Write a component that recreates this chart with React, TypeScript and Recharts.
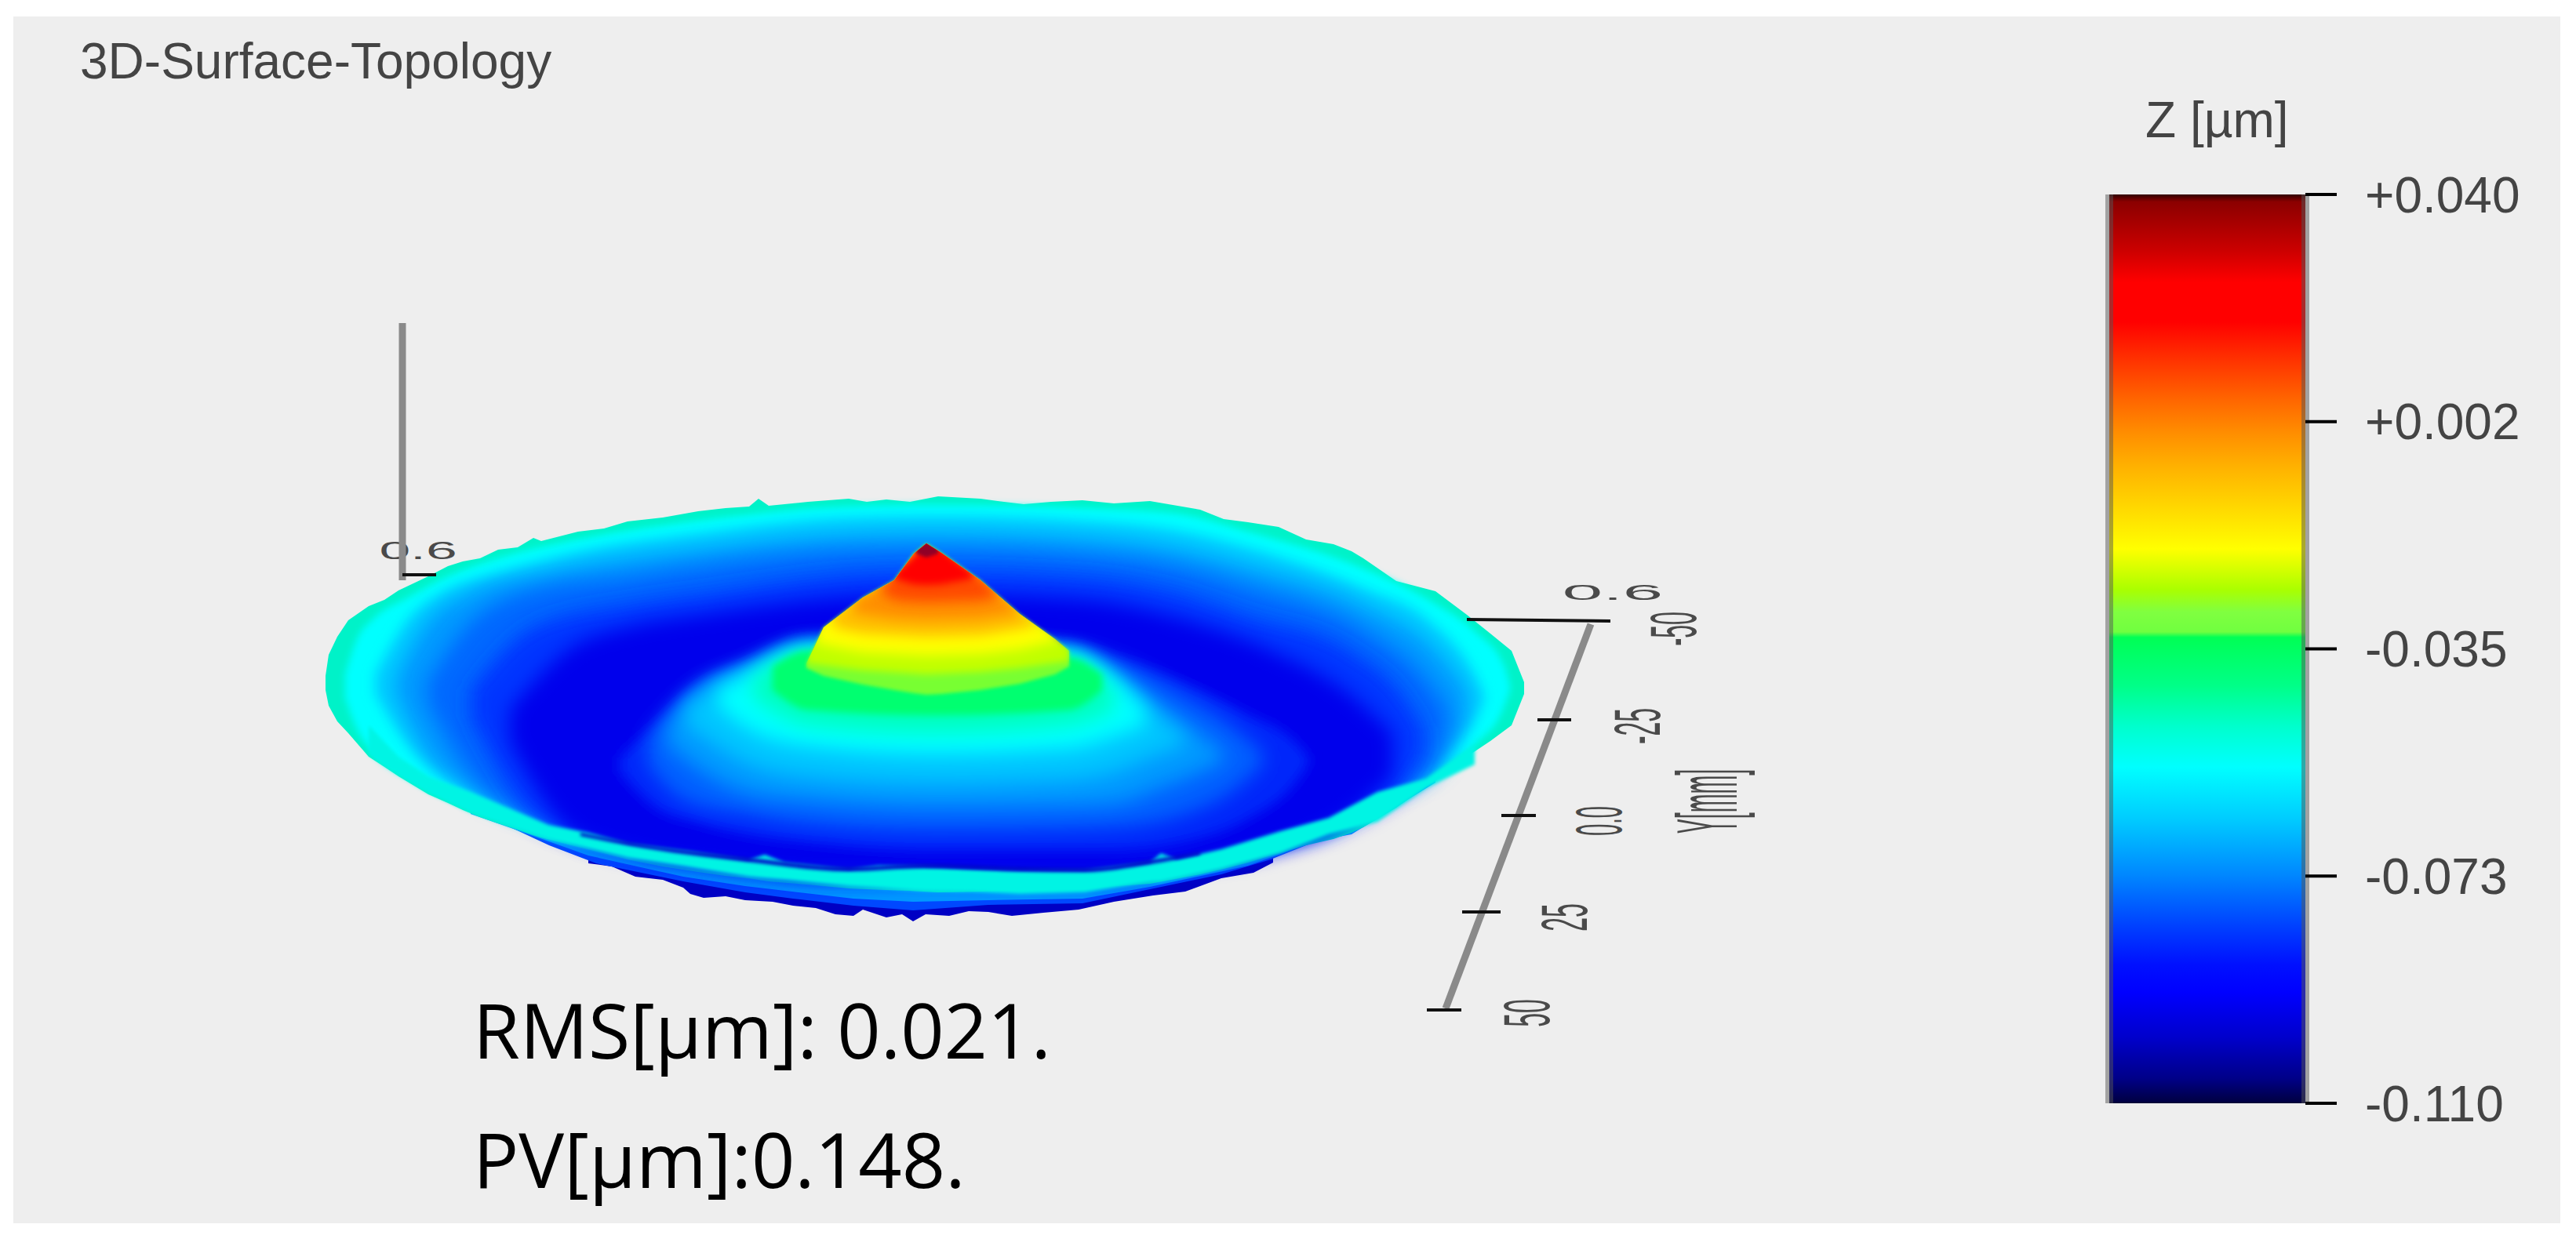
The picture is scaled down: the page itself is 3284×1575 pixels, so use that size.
import React from "react";
import { ComposedChart, Area, Line, XAxis, YAxis, ReferenceLine } from "recharts";

// ---- surface contours as [x, upper edge, lower edge] ----
const underDark = [[750,1095,1101],[780,1095,1105],[810,1095,1118],[845,1095,1122],[871,1100,1132],[880,1100,1140],[897,1100,1145],[925,1100,1143],[950,1100,1148],[985,1100,1150],[1011,1100,1155],[1040,1100,1158],[1065,1100,1166],[1088,1100,1168],[1100,1100,1160],[1130,1100,1170],[1150,1100,1166],[1164,1100,1175],[1180,1100,1166],[1210,1100,1168],[1235,1100,1162],[1260,1100,1163],[1290,1100,1168],[1330,1100,1164],[1375,1100,1160],[1420,1100,1150],[1470,1100,1142],[1511,1100,1137],[1557,1090,1120],[1598,1080,1113],[1623,1070,1100]];
const underBlue = [[640,1040,1050],[700,1060,1078],[760,1085,1101],[871,1100,1124],[950,1110,1138],[1011,1115,1146],[1088,1120,1155],[1164,1120,1161],[1260,1120,1154],[1380,1120,1152],[1466,1110,1134],[1557,1090,1115],[1620,1070,1096],[1680,1050,1072],[1723,1040,1062]];
const underMid = [[600,1020,1038],[680,1050,1066],[750,1075,1091],[871,1095,1118],[950,1110,1130],[1088,1120,1146],[1164,1125,1150],[1260,1125,1148],[1380,1120,1146],[1466,1110,1131],[1591,1080,1104],[1680,1050,1072],[1723,1040,1064],[1773,1010,1033],[1830,975,998]];
const rimLayer = [[415,862,880],[419,835,900],[430,812,920],[444,791,935],[470,773,965],[490,765,978],[508,753,990],[546,735,1013],[571,722,1024],[590,716,1033],[612,712,1042],[635,701,1050],[660,698,1058],[680,686,1065],[690,690,1068],[737,678,1080],[770,674,1088],[800,665,1096],[845,660,1105],[890,652,1112],[925,648,1117],[955,646,1120],[967,636,1122],[980,645,1124],[1030,640,1128],[1082,636,1133],[1105,640,1134],[1130,637,1135],[1160,640,1136],[1196,633,1138],[1250,636,1137],[1280,640,1136],[1305,643,1135],[1340,640,1135],[1380,638,1134],[1420,642,1130],[1466,639,1127],[1530,650,1115],[1560,662,1108],[1591,666,1100],[1630,672,1088],[1665,688,1078],[1700,694,1070],[1723,703,1062],[1738,712,1055],[1780,741,1030],[1830,754,995],[1870,784,965],[1900,808,945],[1927,830,925],[1943,870,885]];
const bowl1 = [[440,860,890],[455,815,930],[475,790,958],[520,762,990],[571,735,1015],[635,712,1042],[737,688,1078],[890,664,1108],[1082,646,1126],[1196,644,1130],[1380,648,1128],[1500,655,1105],[1591,678,1085],[1738,725,1020],[1830,770,985],[1880,805,950],[1918,850,900],[1925,875,880]];
const bowl2 = [[478,860,885],[520,790,950],[565,755,990],[635,732,1025],[737,704,1066],[890,680,1098],[1082,660,1115],[1196,658,1115],[1380,664,1116],[1500,676,1090],[1591,698,1070],[1738,750,1010],[1820,790,975],[1880,860,915],[1892,885,895]];
const bowl3 = [[505,865,885],[540,800,955],[600,755,1008],[700,728,1050],[890,700,1095],[1082,682,1115],[1196,680,1115],[1380,686,1116],[1500,700,1095],[1591,722,1075],[1738,772,1020],[1830,830,985],[1870,880,920]];
const bowl4 = [[545,870,895],[590,805,975],[680,752,1045],[800,735,1080],[890,722,1095],[1082,703,1115],[1196,701,1115],[1380,708,1118],[1500,723,1100],[1591,748,1085],[1738,803,1030],[1820,870,985],[1845,905,930]];
const bowl5 = [[600,880,915],[680,800,1040],[800,770,1085],[890,757,1100],[1082,732,1120],[1196,728,1115],[1380,735,1120],[1500,755,1105],[1591,785,1085],[1720,830,1050],[1790,890,1000],[1815,930,960]];
const bowl6 = [[650,905,945],[730,825,1062],[800,800,1088],[890,785,1105],[1082,762,1120],[1196,758,1118],[1380,765,1122],[1500,788,1105],[1620,830,1085],[1720,885,1040],[1775,935,990]];
const mound1 = [[790,965,985],[835,925,1030],[890,875,1050],[954,845,1065],[1030,815,1075],[1190,815,1085],[1363,822,1085],[1420,838,1085],[1507,870,1075],[1590,910,1045],[1650,945,1000],[1668,965,975]];
const mound2 = [[825,940,975],[870,890,1020],[954,847,1040],[1030,818,1052],[1190,818,1060],[1363,826,1058],[1430,845,1055],[1507,885,1040],[1570,925,1010],[1610,960,975]];
const mound3 = [[850,925,950],[895,875,985],[954,850,1012],[1030,822,1022],[1190,820,1030],[1363,830,1028],[1420,860,1025],[1480,900,1005],[1530,935,985],[1560,960,970]];
const mound4 = [[875,900,925],[954,855,975],[1030,825,992],[1190,822,1000],[1363,832,995],[1420,865,985],[1470,905,965],[1510,940,950]];
const mound5 = [[915,880,900],[954,860,930],[1030,828,952],[1190,825,962],[1363,835,955],[1420,865,940],[1460,905,925]];
const mound6 = [[960,865,890],[1030,830,925],[1190,828,935],[1363,838,925],[1420,880,905]];
const mound7 = [[985,850,880],[1030,830,905],[1190,830,912],[1363,838,905],[1405,860,880]];
const lipEdge = [[740,1062,1066],[801,1074,1078],[954,1094,1099],[1082,1106,1111],[1177,1102,1107],[1300,1106,1111],[1383,1107,1112],[1466,1097,1102],[1530,1086,1090]];
const lipBand = [[470,925,962],[508,965,988],[546,990,1011],[600,1010,1036],[699,1052,1070],[750,1062,1082],[801,1076,1094],[880,1086,1106],[954,1097,1118],[975,1090,1120],[1000,1100,1122],[1082,1109,1130],[1120,1104,1132],[1177,1105,1136],[1240,1108,1137],[1300,1110,1140],[1383,1110,1138],[1466,1100,1125],[1480,1088,1124],[1500,1096,1120],[1557,1083,1108],[1632,1060,1088],[1694,1043,1064],[1756,1010,1048],[1818,993,1005],[1880,950,975]];
const peakOutline = [[1028,846,852],[1050,800,862],[1100,762,873],[1140,740,880],[1165,706,884],[1181,693,886],[1200,705,885],[1250,740,880],[1300,783,872],[1345,815,860],[1363,830,850]];
const peakHalo = [[1036,826,834],[1048,795,812],[1098,758,778],[1138,736,752],[1163,702,722],[1181,688,712],[1202,701,722],[1252,736,752],[1303,779,795],[1340,806,818],[1354,818,826]];
const peak2 = [[1028,820,846],[1100,760,855],[1181,690,860],[1250,738,857],[1300,780,852],[1363,825,843]];
const peak3 = [[1040,790,820],[1100,760,832],[1181,690,836],[1250,738,834],[1300,780,828],[1350,810,816]];
const peak4 = [[1062,780,800],[1100,760,808],[1181,690,812],[1250,738,810],[1300,780,802],[1325,795,796]];
const peak5 = [[1088,766,782],[1140,738,790],[1181,690,792],[1250,738,790],[1303,780,782]];
const peak6 = [[1125,745,758],[1145,730,766],[1181,690,768],[1250,735,766],[1275,760,760]];
const peak7 = [[1140,732,738],[1165,710,745],[1181,690,746],[1200,700,745],[1240,732,738]];
const peak8 = [[1168,700,706],[1181,690,711],[1196,700,706]];

// ---- 3D axes ----
const zAxisLine = [[513,412],[513,740]];
const zAxisTick = [[513,733],[556,733]];
const yAxisLine = [[2028,796],[1843,1286]];
const yEndTick = [[1870,790],[2053,792]];
const yTick1 = [[1960,918],[2003,918]];
const yTick2 = [[1914,1040],[1958,1040]];
const yTick3 = [[1864,1163],[1913,1163]];
const yTick4 = [[1819,1288],[1863,1288]];

// ---- colour scale ----
const zDomain = [-0.11, 0.04];
const zTicks = [0.04, 0.0025, -0.035, -0.0725, -0.11];
const zLabels = ["+0.040", "+0.002", "-0.035", "-0.073", "-0.110"];
const scaleValues = [0.04,0.0388,0.0307,0.0255,0.019,0.0126,0.0061,0.0009,-0.0047,-0.0185,-0.0252,-0.0289,-0.0322,-0.0331,-0.0411,-0.0477,-0.0545,-0.063,-0.0722,-0.0808,-0.0871,-0.0917,-0.0991,-0.1059,-0.1097,-0.11];
const scaleColors = ["#300000","#8b0000","#cc0000","#ff0000","#ff0000","#ff3300","#ff6600","#ff8c00","#ffb000","#ffff00","#aaff00","#80ff40","#70ff40","#00ff55","#00ff88","#00ffcc","#00ffff","#00ccff","#0088ff","#0040ff","#0010ff","#0000ff","#0000cc","#000088","#000044","#000030"];
const scaleExtent = [{ x: 0, range: zDomain }, { x: 1, range: zDomain }];

const W = 3284;
const H = 1575;
const sans = "'Liberation Sans', Arial, sans-serif";
const toBand = (rows: number[][]) => rows.map(([x, a, b]) => ({ x, range: [a, b] }));
const toPath = (rows: number[][]) => rows.map(([x, y]) => ({ x, y }));
const conePolygon = [
  ...peakOutline.map(([x, top]) => `${x},${top}`),
  ...[...peakOutline].reverse().map(([x, , bottom]) => `${x},${bottom}`),
].join(" ");

const layers: [number[][], string, string, string, boolean][] = [
  [underDark, "#0000c4", "", "linear", false],
  [underBlue, "#0048ff", "", "linear", false],
  [underMid, "#0098ff", "", "linear", false],
  [rimLayer, "#00f2c8", "", "linear", false],
  [bowl1, "#00ffff", "soft5", "monotone", false],
  [bowl2, "#00ccff", "soft8", "monotone", false],
  [bowl3, "#0098ff", "soft12", "monotone", false],
  [bowl4, "#0068ff", "soft12", "monotone", false],
  [bowl5, "#0034ff", "soft12", "monotone", false],
  [bowl6, "#0000ec", "soft12", "monotone", false],
  [lipBand, "#00f4e4", "soft2", "linear", false],
  [lipEdge, "#0000c8", "soft2", "monotone", false],
  [mound1, "#0028fa", "soft8", "monotone", false],
  [mound2, "#0060ff", "soft12", "monotone", false],
  [mound3, "#0098ff", "soft12", "monotone", false],
  [mound4, "#00c4ff", "soft12", "monotone", false],
  [mound5, "#00ffff", "soft12", "monotone", false],
  [mound6, "#00ffc0", "soft12", "monotone", false],
  [mound7, "#00ff70", "soft5", "monotone", false],
  [peakOutline, "#78ff30", "soft2", "linear", false],
  [peakHalo, "#6a6a90", "soft2", "linear", true],
  [peak2, "#c0ff00", "soft5", "linear", true],
  [peak3, "#ffff00", "soft8", "linear", true],
  [peak4, "#ffc000", "soft8", "linear", true],
  [peak5, "#ff9000", "soft8", "linear", true],
  [peak6, "#ff4800", "soft8", "linear", true],
  [peak7, "#ff0000", "soft5", "linear", true],
  [peak8, "#900028", "soft2", "linear", true],
];

function Squeezed({ x, y, rot, sx, sy, size, children }: any) {
  return (
    <text
      transform={`translate(${x},${y}) rotate(${rot}) scale(${sx},${sy})`}
      textAnchor="middle"
      dominantBaseline="central"
      fontFamily={sans}
      fontSize={size}
      fill="#4a4a4a"
    >
      {children}
    </text>
  );
}

function Blur({ id, amount }: { id: string; amount: number }) {
  return (
    <filter id={id} filterUnits="userSpaceOnUse" x="0" y="0" width={W} height={H}>
      <feGaussianBlur stdDeviation={amount} />
    </filter>
  );
}

export default function App() {
  return (
    <div style={{ position: "absolute", left: 0, top: 0, width: W, height: H, background: "#ffffff", overflow: "hidden" }}>
      <div style={{ position: "absolute", left: 17, top: 21, width: 3247, height: 1539, background: "#eeeeee" }} />
      <div style={{ position: "absolute", left: 0, top: 0 }}>
        <ComposedChart width={W} height={H} margin={{ top: 0, right: 0, bottom: 0, left: 0 }}>
          <defs>
            <Blur id="soft2" amount={2} />
            <Blur id="soft5" amount={5} />
            <Blur id="soft8" amount={8} />
            <Blur id="soft12" amount={12} />
            <clipPath id="cone" clipPathUnits="userSpaceOnUse">
              <polygon points={conePolygon} />
            </clipPath>
          </defs>
          <XAxis type="number" dataKey="x" domain={[0, W]} hide />
          <YAxis type="number" domain={[0, H]} reversed hide />
          {layers.map(([rows, color, soft, curve, clipped], i) => (
            <Area
              key={i}
              data={toBand(rows)}
              dataKey="range"
              type={curve as any}
              stroke="none"
              fill={color}
              fillOpacity={1}
              filter={soft ? `url(#${soft})` : undefined}
              clipPath={clipped ? "url(#cone)" : undefined}
              dot={false}
              activeDot={false}
              isAnimationActive={false}
            />
          ))}
          {[zAxisLine, yAxisLine].map((rows, i) => (
            <Line key={i} data={toPath(rows)} dataKey="y" stroke="#8a8a8a" strokeWidth={9} dot={false} activeDot={false} isAnimationActive={false} />
          ))}
          {[zAxisTick, yEndTick, yTick1, yTick2, yTick3, yTick4].map((rows, i) => (
            <Line key={i} data={toPath(rows)} dataKey="y" stroke="#111111" strokeWidth={4} dot={false} activeDot={false} isAnimationActive={false} />
          ))}
          <text x={102} y={100} fontFamily={sans} fontSize={64} fill="#444444">3D-Surface-Topology</text>
          <text x={2735} y={175} fontFamily={sans} fontSize={64} fill="#444444">Z [µm]</text>
          <text x={603} y={1350} fontFamily="'Open Sans', sans-serif" fontSize={97} fill="#000000">RMS[µm]: 0.021.</text>
          <text x={603} y={1515} fontFamily="'Open Sans', sans-serif" fontSize={97} fill="#000000">PV[µm]:0.148.</text>
          <Squeezed x={533} y={702} rot={0} sx={0.85} sy={0.37} size={84}>0.6</Squeezed>
          <Squeezed x={2056} y={756} rot={0} sx={1.1} sy={0.32} size={84}>0.6</Squeezed>
          <Squeezed x={2133} y={802} rot={-90} sx={0.36} sy={1} size={84}>-50</Squeezed>
          <Squeezed x={2086} y={926} rot={-90} sx={0.38} sy={1} size={84}>-25</Squeezed>
          <Squeezed x={2038} y={1047} rot={-90} sx={0.32} sy={1} size={84}>0.0</Squeezed>
          <Squeezed x={1993} y={1170} rot={-90} sx={0.38} sy={1} size={84}>25</Squeezed>
          <Squeezed x={1945} y={1292} rot={-90} sx={0.38} sy={1} size={84}>50</Squeezed>
          <Squeezed x={2176} y={1022} rot={-90} sx={0.26} sy={1} size={110}>Y[mm]</Squeezed>
        </ComposedChart>
      </div>
      <div style={{ position: "absolute", left: 2600, top: 148 }}>
        <ComposedChart width={684} height={1359} margin={{ top: 100, right: 0, bottom: 100, left: 89 }}>
          <defs>
            <linearGradient id="zScale" x1="0" y1="0" x2="0" y2="1">
              {scaleValues.map((v, i) => (
                <stop key={i} offset={(zDomain[1] - v) / (zDomain[1] - zDomain[0])} stopColor={scaleColors[i]} />
              ))}
            </linearGradient>
          </defs>
          <XAxis type="number" dataKey="x" domain={[0, 1]} hide />
          <YAxis
            orientation="right"
            type="number"
            width={345}
            domain={zDomain}
            ticks={zTicks}
            interval={0}
            axisLine={false}
            tickSize={40}
            tickMargin={36}
            tickLine={{ stroke: "#000000", strokeWidth: 4 }}
            tick={{ fill: "#444444", fontSize: 64, fontFamily: sans }}
            tickFormatter={(_: number, i: number) => zLabels[i]}
            allowDataOverflow
          />
          <Area data={scaleExtent} dataKey="range" type="linear" stroke="none" fill="url(#zScale)" fillOpacity={1} dot={false} activeDot={false} isAnimationActive={false} />
          <ReferenceLine x={0} stroke="#555555" strokeOpacity={0.5} strokeWidth={10} />
          <ReferenceLine x={1} stroke="#555555" strokeOpacity={0.5} strokeWidth={10} />
        </ComposedChart>
      </div>
    </div>
  );
}
